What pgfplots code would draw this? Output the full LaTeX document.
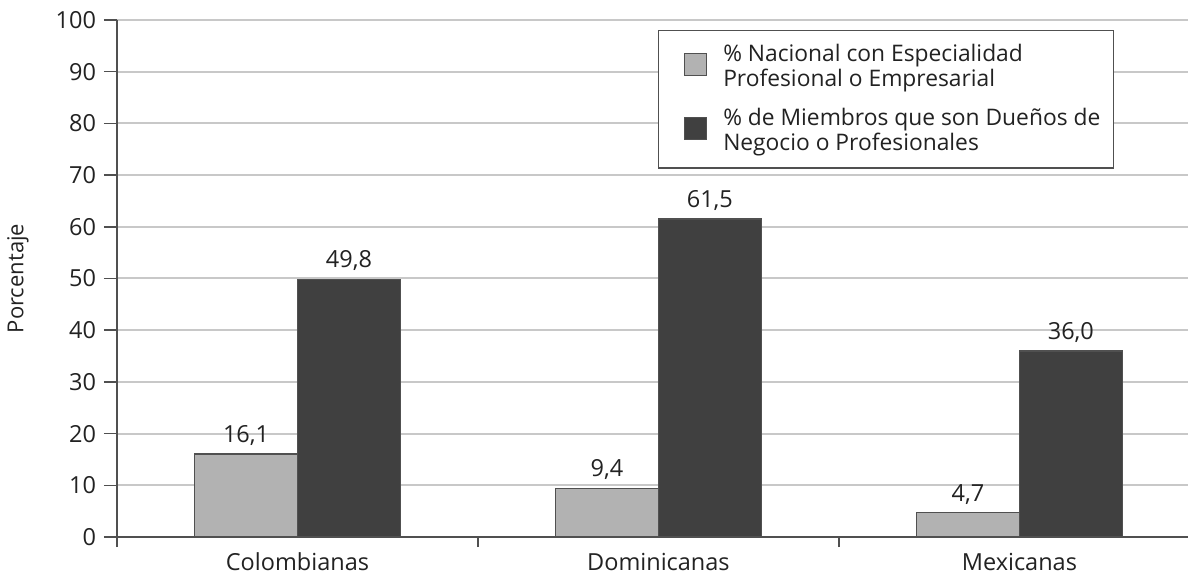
\documentclass[border=0pt]{standalone}
\usepackage{pgfplots}
\pgfplotsset{compat=1.18}
\usepackage{fontspec}
\setmainfont{Open Sans}
\definecolor{lightbar}{HTML}{B2B2B2}
\definecolor{darkbar}{HTML}{404040}
\definecolor{edgec}{HTML}{505050}
\definecolor{gridc}{HTML}{C8C8C8}
\definecolor{textc}{HTML}{222222}
\pgfplotsset{sq legend/.style={legend image code/.code={%
  \draw[##1, line width=1.5bp] (0bp,-8bp) rectangle (22bp,14bp);
  \path[draw=none, fill=none] (-15bp,0bp) rectangle (37bp,1bp);}}}
\begin{document}
\fontsize{23.5bp}{25bp}\selectfont
\begin{tikzpicture}
\begin{axis}[
  scale only axis, width=1071bp, height=517bp,
  at={(0,0)}, anchor=south west,
  ymin=0, ymax=100, ytick={0,10,...,100},
  xmin=-0.5, xmax=2.467,
  xtick={0,1,2}, xticklabels={Colombianas,Dominicanas,Mexicanas},
  major x tick style={draw=none},
  minor xtick={-0.5,0.5,1.5,2.5},
  minor tick length=10bp, major tick length=13bp,
  tick align=outside,
  axis x line*=bottom, axis y line*=left,
  axis line style={edgec, line width=1.5bp, -},
  tick style={edgec, line width=1.5bp},
  ymajorgrids, grid style={gridc, line width=2bp},
  ylabel={Porcentaje},
  every axis y label/.style={at={(rel axis cs:0,0.5)}, xshift=-99bp, rotate=90, anchor=center,
    font=\fontsize{22bp}{25bp}\selectfont, text=textc},
  ticklabel style={font=\fontsize{23.5bp}{25bp}\selectfont, text=textc},
  xticklabel style={yshift=5bp},
  /pgf/number format/assume math mode=true,
  point meta=explicit symbolic,
  nodes near coords,
  nodes near coords style={font=\fontsize{23.5bp}{25bp}\selectfont, text=textc},
  legend style={at={(0.931,0.981)}, anchor=north east, draw=edgec, line width=1.5bp,
    font=\fontsize{22.8bp}{25bp}\selectfont, text=textc,
    inner xsep=11bp, inner ysep=12bp,
    cells={align=left}, legend cell align=left, row sep=14bp},
]
\addplot[ybar, bar width=0.285, bar shift=0, fill=lightbar, draw=edgec, line width=1.5bp, sq legend]
  coordinates {(-0.1425,16.1) [16,1] (0.8575,9.4) [9,4] (1.8575,4.7) [4,7]};
\addplot[ybar, bar width=0.285, bar shift=0, fill=darkbar, draw=edgec, line width=1.5bp, sq legend]
  coordinates {(0.1425,49.8) [49,8] (1.1425,61.5) [61,5] (2.1425,36.0) [36,0]};
\legend{{\% Nacional con Especialidad\\Profesional o Empresarial},
        {\% de Miembros que son Dueños de\\Negocio o Profesionales}}
\end{axis}
\pgfresetboundingbox
\path (-117bp,-39bp) rectangle (1073bp,537bp);
\end{tikzpicture}
\end{document}
